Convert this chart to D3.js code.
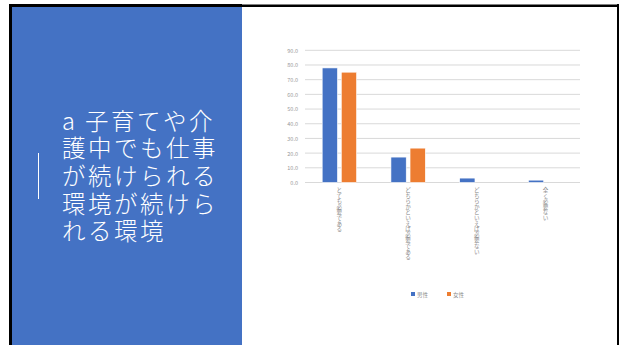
<!DOCTYPE html>
<html>
<head>
<meta charset="utf-8">
<script src="https://cdn.jsdelivr.net/npm/d3@7"></script>
<style>
  html, body { margin: 0; padding: 0; background: #fff; }
  svg { display: block; }
  text { font-family: "Noto Sans CJK JP", "Noto Sans", sans-serif; }
</style>
</head>
<body>
<svg id="slide" width="622" height="345"></svg>
<script>
// Survey answer categories and the share (%) per gender
const categories = ["とても必要である", "どちらかといえば必要である", "どちらかといえば必要ない", "全く必要ない"];
const seriesNames = ["男性", "女性"];
const maleValues = [78.0, 17.3, 3.0, 1.6];
const femaleValues = [75.1, 23.4, 0.0, 0.0];
const yTicks = [0, 10, 20, 30, 40, 50, 60, 70, 80, 90];
const titleLines = ["a 子育てや介", "護中でも仕事", "が続けられる", "環境が続けら", "れる環境"];

const colors = { "男性": "#4472C4", "女性": "#ED7D31" };
const values = { "男性": maleValues, "女性": femaleValues };

const svg = d3.select("#slide");

// Slide frame
svg.append("rect").attr("x", 9).attr("y", 4).attr("width", 610).attr("height", 341).attr("fill", "#000");
svg.append("rect").attr("x", 242).attr("y", 4).attr("width", 375).attr("height", 1).attr("fill", "#808080");
svg.append("rect").attr("x", 12).attr("y", 7).attr("width", 605).attr("height", 338).attr("fill", "#fff");
svg.append("rect").attr("x", 12).attr("y", 7).attr("width", 230).attr("height", 338).attr("fill", "#4472C4");

// Title panel
svg.append("line").attr("x1", 38.5).attr("x2", 38.5).attr("y1", 153).attr("y2", 199)
  .attr("stroke", "#fff").attr("stroke-width", 1);

svg.append("g").selectAll("text").data(titleLines).join("text")
  .attr("x", 62)
  .attr("y", (d, i) => 129.5 + i * 27.7)
  .attr("fill", "#fff")
  .attr("font-size", 23.5)
  .attr("font-weight", 300)
  .attr("letter-spacing", 2.5)
  .text(d => d);

// Chart
const x0 = d3.scaleBand().domain(categories).range([305, 580]).paddingInner(0.5).paddingOuter(0.25);
const x1 = d3.scaleBand().domain(seriesNames).range([0, x0.bandwidth()]).paddingInner(0.2);
const y = d3.scaleLinear().domain([0, 90]).range([182.5, 50.3]);

const grid = svg.append("g");
grid.selectAll("line").data(yTicks).join("line")
  .attr("x1", 305).attr("x2", 580)
  .attr("y1", d => y(d)).attr("y2", d => y(d))
  .attr("stroke", "#d9d9d9").attr("stroke-width", 1);

const yAxis = svg.append("g").attr("transform", "translate(298,0)")
  .call(d3.axisLeft(y).tickValues(yTicks).tickFormat(d3.format(".1f")).tickSize(0).tickPadding(0));
yAxis.select(".domain").remove();
yAxis.selectAll("text").attr("fill", "#999").attr("font-size", 5.5)
  .attr("font-family", "\"Noto Sans CJK JP\", sans-serif").attr("dy", "0.35em");

const groups = svg.append("g").selectAll("g").data(categories).join("g")
  .attr("transform", d => `translate(${x0(d)},0)`);

groups.selectAll("rect")
  .data((d, i) => seriesNames.map(s => ({ s, v: values[s][i] })))
  .join("rect")
  .attr("x", d => x1(d.s))
  .attr("width", x1.bandwidth())
  .attr("y", d => y(d.v))
  .attr("height", d => y(0) - y(d.v))
  .attr("fill", d => colors[d.s])
  .attr("stroke", "#fff").attr("stroke-width", 0.6);

// Category labels, set vertically with upright glyphs
svg.append("g").selectAll("text").data(categories).join("text")
  .attr("x", d => x0(d) + x0.bandwidth() / 2)
  .attr("y", 187)
  .attr("fill", "#8c8c8c")
  .attr("font-size", 5.6)
  .style("writing-mode", "vertical-rl")
  .style("text-orientation", "upright")
  .text(d => d);

// Legend
const legend = svg.append("g").selectAll("g").data(seriesNames).join("g")
  .attr("transform", (d, i) => `translate(${411 + i * 36},292)`);
legend.append("rect").attr("width", 4).attr("height", 4).attr("fill", d => colors[d]);
legend.append("text").attr("x", 6).attr("y", 4.5).attr("fill", "#8c8c8c").attr("font-size", 5.5).text(d => d);
</script>
</body>
</html>
